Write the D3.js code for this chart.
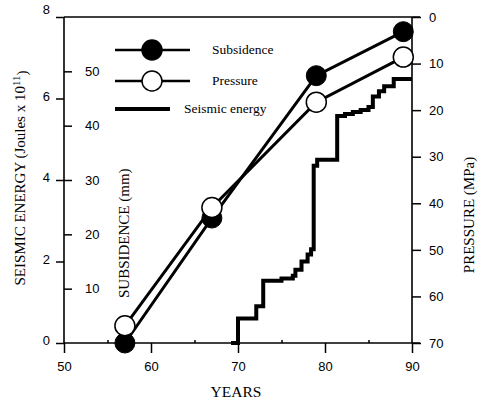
<!DOCTYPE html>
<html>
<head>
<meta charset="utf-8">
<script src="https://cdn.jsdelivr.net/npm/d3@7"></script>
<style>
  body { margin: 0; background: #fff; }
  svg { display: block; font-family: "Liberation Serif", "DejaVu Serif", serif; }
  .axis text { font-size: 13px; fill: #000; }
  .axis line, .axis path { stroke: #000; stroke-width: 1.5px; }
</style>
</head>
<body>
<svg id="chart" width="482" height="414"></svg>
<script>
// data
const years = [57, 67, 79, 89];
const subsidence = [0, 23, 49.2, 57.3];
const pressure = [66.3, 40.9, 18.3, 8.6];

const energyYears = [69.2, 70.0, 72.1, 72.9, 75.0, 76.3, 76.6, 77.3, 78.0, 78.4, 78.7, 79.1, 81.4, 82.3, 83.2, 84.1, 85.0, 85.5, 86.2, 86.8, 87.9, 90.0];
const energy = [0, 0.6, 0.9, 1.53, 1.58, 1.65, 1.8, 2.0, 2.17, 2.3, 4.35, 4.5, 5.57, 5.62, 5.67, 5.72, 5.79, 6.05, 6.18, 6.3, 6.48, 6.48];

const yearTicks = [50, 60, 70, 80, 90];
const yearMinor = [55, 65, 75, 85];
const energyTicks = [0, 2, 4, 6, 8];
const subsidenceTicks = [10, 20, 30, 40, 50];
const pressureTicks = [0, 10, 20, 30, 40, 50, 60, 70];

const svg = d3.select("#chart");
const m = { left: 64, right: 412, top: 17, bottom: 343 };

const x = d3.scaleLinear([50, 90], [m.left, m.right]);
const yE = d3.scaleLinear([0, 8], [m.bottom, m.top]);
const yS = d3.scaleLinear([0, 60], [m.bottom, m.top]);
const yP = d3.scaleLinear([0, 70], [m.top, m.bottom]);

// frame
svg.append("g").attr("stroke", "#000").attr("stroke-width", 1.6)
  .selectAll("line")
  .data([
    [m.left, m.top, 420, m.top],
    [m.left, m.bottom, 420, m.bottom],
    [m.left, m.top, m.left, m.bottom],
    [m.right, m.top, m.right, m.bottom]
  ])
  .join("line")
  .attr("x1", d => d[0]).attr("y1", d => d[1])
  .attr("x2", d => d[2]).attr("y2", d => d[3]);

// axes
const gx = svg.append("g").attr("class", "axis")
  .attr("transform", `translate(0,${m.bottom})`)
  .call(d3.axisBottom(x).tickValues(yearTicks).tickSize(10).tickPadding(9).tickSizeOuter(0));
gx.select(".domain").remove();

svg.append("g").attr("class", "axis minor")
  .attr("transform", `translate(0,${m.bottom})`)
  .call(d3.axisTop(x).tickValues(yearMinor).tickSize(3).tickFormat(""))
  .select(".domain").remove();

const gE = svg.append("g").attr("class", "axis")
  .attr("transform", `translate(${m.left},0)`)
  .call(d3.axisLeft(yE).tickValues(energyTicks).tickSize(8).tickPadding(6));
gE.select(".domain").remove();
gE.selectAll(".tick text").attr("dy", (d) => d === 8 ? "-0.3em" : "0.15em");

const gS = svg.append("g").attr("class", "axis")
  .attr("transform", `translate(${m.left},0)`)
  .call(d3.axisRight(yS).tickValues(subsidenceTicks).tickSize(8).tickPadding(13));
gS.select(".domain").remove();

const gP = svg.append("g").attr("class", "axis")
  .attr("transform", `translate(${m.right},0)`)
  .call(d3.axisRight(yP).tickValues(pressureTicks).tickSize(9).tickPadding(8));
gP.select(".domain").remove();

// axis titles
svg.append("text")
  .attr("x", 236).attr("y", 397)
  .attr("text-anchor", "middle")
  .style("font-size", "15.5px")
  .text("YEARS");

const eTitle = svg.append("text")
  .attr("transform", "translate(25,178) rotate(-90)")
  .attr("text-anchor", "middle")
  .style("font-size", "15px");
eTitle.append("tspan").text("SEISMIC ENERGY (Joules x 10");
eTitle.append("tspan").attr("dy", "-0.45em").style("font-size", "11px").text("11");
eTitle.append("tspan").attr("dy", "0.45em").text(")");

svg.append("text")
  .attr("transform", "translate(129,298) rotate(-90)")
  .attr("text-anchor", "start")
  .style("font-size", "15px")
  .text("SUBSIDENCE (mm)");

svg.append("text")
  .attr("transform", "translate(474,215) rotate(-90)")
  .attr("text-anchor", "middle")
  .style("font-size", "15px")
  .text("PRESSURE (MPa)");

// seismic energy steps
const stepData = energyYears.map((d, i) => ({ year: d, value: energy[i] }));
svg.append("path")
  .datum(stepData)
  .attr("fill", "none")
  .attr("stroke", "#000")
  .attr("stroke-width", 4)
  .attr("d", d3.line().x(d => x(d.year)).y(d => yE(d.value)).curve(d3.curveStepAfter));

// subsidence
const subData = years.map((d, i) => ({ year: d, value: subsidence[i] }));
svg.append("path")
  .datum(subData)
  .attr("fill", "none").attr("stroke", "#000").attr("stroke-width", 3)
  .attr("d", d3.line().x(d => x(d.year)).y(d => yS(d.value)));
svg.append("g").selectAll("circle")
  .data(subData)
  .join("circle")
  .attr("cx", d => x(d.year)).attr("cy", d => yS(d.value))
  .attr("r", 10).attr("fill", "#000").attr("stroke", "#000");

// pressure
const presData = years.map((d, i) => ({ year: d, value: pressure[i] }));
svg.append("path")
  .datum(presData)
  .attr("fill", "none").attr("stroke", "#000").attr("stroke-width", 3)
  .attr("d", d3.line().x(d => x(d.year)).y(d => yP(d.value)));
svg.append("g").selectAll("circle")
  .data(presData)
  .join("circle")
  .attr("cx", d => x(d.year)).attr("cy", d => yP(d.value))
  .attr("r", 10).attr("fill", "#fff").attr("stroke", "#000").attr("stroke-width", 1.5);

// legend
const legendItems = [
  { label: "Subsidence", fill: "#000", x1: 115, x2: 190, tx: 212 },
  { label: "Pressure", fill: "#fff", x1: 115, x2: 190, tx: 212 },
  { label: "Seismic energy", fill: null, x1: 115, x2: 170, tx: 184 }
];
const legend = svg.append("g")
  .selectAll("g")
  .data(legendItems)
  .join("g")
  .attr("transform", (d, i) => `translate(0,${[50, 81, 109][i]})`);
legend.append("line")
  .attr("x1", d => d.x1).attr("x2", d => d.x2)
  .attr("stroke", "#000")
  .attr("stroke-width", d => d.fill ? 2.5 : 4);
legend.filter(d => d.fill)
  .append("circle")
  .attr("cx", 152).attr("r", 10)
  .attr("fill", d => d.fill).attr("stroke", "#000").attr("stroke-width", 1.5);
legend.append("text")
  .attr("x", d => d.tx).attr("dy", "0.32em")
  .style("font-size", "13.5px")
  .text(d => d.label);
</script>
</body>
</html>
